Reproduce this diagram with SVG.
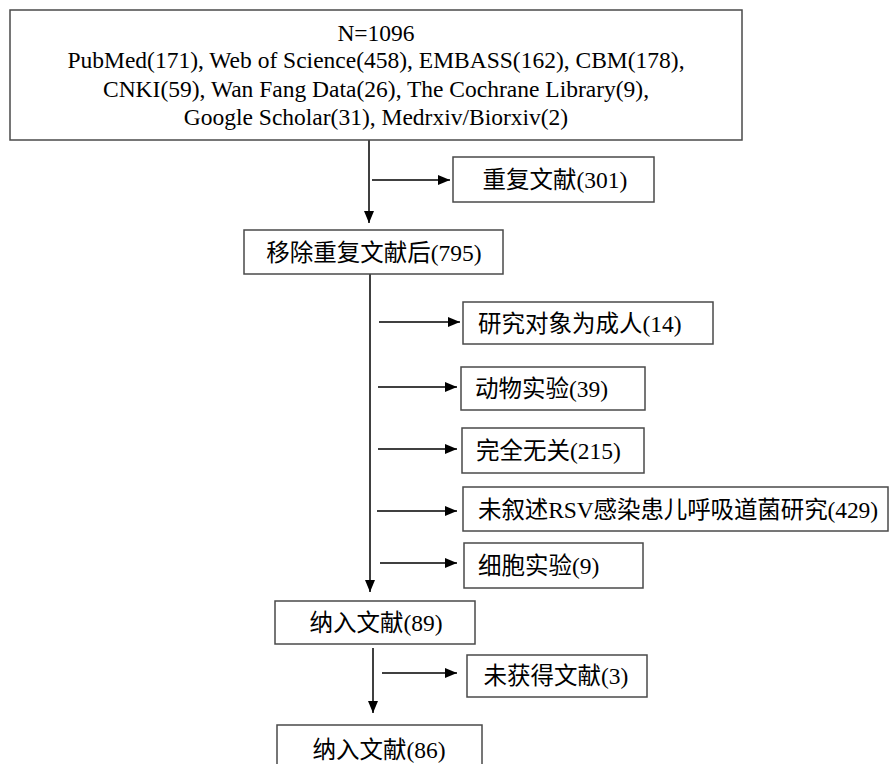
<svg xmlns="http://www.w3.org/2000/svg" width="889" height="764" viewBox="0 0 889 764">
<style>
  .box { fill: #ffffff; stroke: #4a4a4a; stroke-width: 1.5; }
  .t { font-family: "Liberation Serif", "Noto Sans CJK SC", serif; font-size: 23.5px; fill: #000000; }
  .r { font-family: "Liberation Serif", serif; }
  .c { text-anchor: middle; }
  .l { text-anchor: start; }
  .conn { stroke: #000000; stroke-width: 1.5; fill: none; }
</style>
<defs>
  <marker id="ah" markerUnits="userSpaceOnUse" markerWidth="12" markerHeight="10" refX="12" refY="5" orient="auto">
    <path d="M0,0 L12,5 L0,10 z" fill="#000000"/>
  </marker>
</defs>
<rect width="889" height="764" fill="#ffffff"/>

<g id="connectors">
  <line class="conn" x1="369" y1="140" x2="369" y2="223" marker-end="url(#ah)"/>
  <line class="conn" x1="372" y1="180" x2="450" y2="180" marker-end="url(#ah)"/>
  <line class="conn" x1="370" y1="274" x2="370" y2="592" marker-end="url(#ah)"/>
  <line class="conn" x1="379" y1="322" x2="460" y2="322" marker-end="url(#ah)"/>
  <line class="conn" x1="378" y1="387" x2="457" y2="387" marker-end="url(#ah)"/>
  <line class="conn" x1="378" y1="449" x2="457" y2="449" marker-end="url(#ah)"/>
  <line class="conn" x1="377" y1="511" x2="457" y2="511" marker-end="url(#ah)"/>
  <line class="conn" x1="380" y1="563" x2="457" y2="563" marker-end="url(#ah)"/>
  <line class="conn" x1="373" y1="648" x2="373" y2="713" marker-end="url(#ah)"/>
  <line class="conn" x1="382" y1="673" x2="457" y2="673" marker-end="url(#ah)"/>
</g>

<g id="n-total">
  <rect class="box" x="10" y="10" width="732" height="130"/>
  <text class="t r c" x="376" y="41">N=1096</text>
  <text class="t r c" x="376" y="68">PubMed(171), Web of Science(458), EMBASS(162), CBM(178),</text>
  <text class="t r c" x="376" y="97">CNKI(59), Wan Fang Data(26), The Cochrane Library(9),</text>
  <text class="t r c" x="376" y="125">Google Scholar(31), Medrxiv/Biorxiv(2)</text>
</g>

<g id="n-dup">
  <rect class="box" x="453" y="157" width="201" height="45"/>
  <text class="t c" x="555" y="188">重复文献<tspan class="r">(301)</tspan></text>
</g>

<g id="n-after">
  <rect class="box" x="244" y="230" width="259" height="44"/>
  <text class="t c" x="374" y="261">移除重复文献后<tspan class="r">(795)</tspan></text>
</g>

<g id="n-adult">
  <rect class="box" x="463" y="302" width="250" height="42"/>
  <text class="t l" x="478" y="332">研究对象为成人<tspan class="r">(14)</tspan></text>
</g>

<g id="n-animal">
  <rect class="box" x="461" y="367" width="184" height="43"/>
  <text class="t l" x="475" y="397">动物实验<tspan class="r">(39)</tspan></text>
</g>

<g id="n-unrelated">
  <rect class="box" x="462" y="428" width="182" height="45"/>
  <text class="t l" x="476" y="459">完全无关<tspan class="r">(215)</tspan></text>
</g>

<g id="n-rsv">
  <rect class="box" x="463" y="487" width="425" height="44"/>
  <text class="t l" x="478" y="518" textLength="400" lengthAdjust="spacing">未叙述<tspan class="r">RSV</tspan>感染患儿呼吸道菌研究<tspan class="r">(429)</tspan></text>
</g>

<g id="n-cell">
  <rect class="box" x="464" y="543" width="179" height="45"/>
  <text class="t l" x="478" y="574">细胞实验<tspan class="r">(9)</tspan></text>
</g>

<g id="n-inc89">
  <rect class="box" x="275" y="601" width="200" height="43"/>
  <text class="t c" x="376" y="631">纳入文献<tspan class="r">(89)</tspan></text>
</g>

<g id="n-notobt">
  <rect class="box" x="467" y="655" width="180" height="42"/>
  <text class="t c" x="556" y="684">未获得文献<tspan class="r">(3)</tspan></text>
</g>

<g id="n-inc86">
  <rect class="box" x="277" y="725" width="205" height="50"/>
  <text class="t c" x="379" y="758">纳入文献<tspan class="r">(86)</tspan></text>
</g>
</svg>
